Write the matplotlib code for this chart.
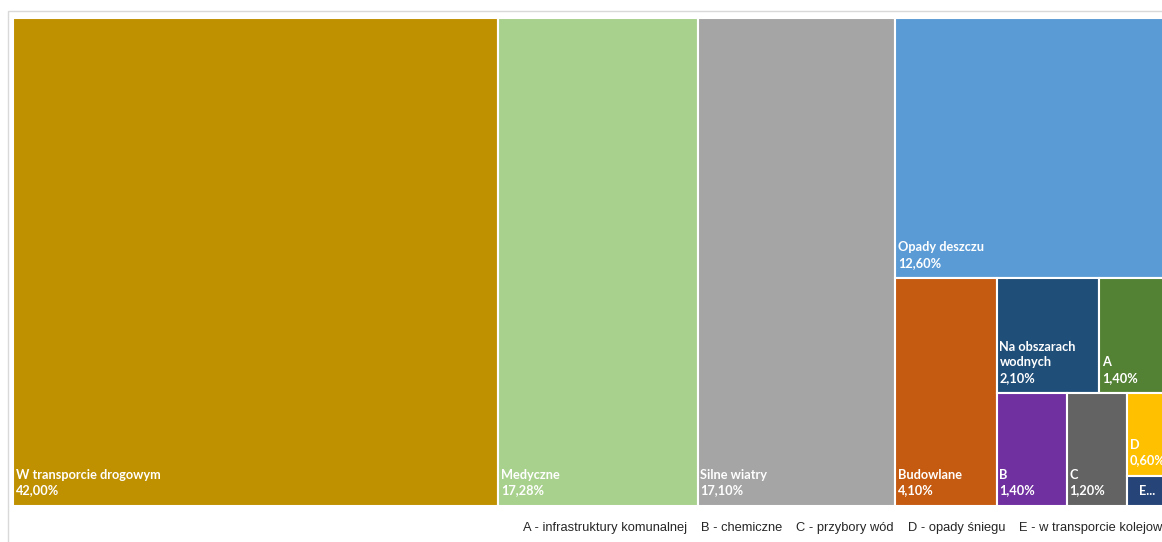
import textwrap
import matplotlib
matplotlib.use("Agg")
import matplotlib.pyplot as plt
from matplotlib.patches import Rectangle

# Treemap data (values in %)
names = ['W transporcie drogowym', 'Medyczne', 'Silne wiatry', 'Opady deszczu',
         'Budowlane', 'Na obszarach wodnych', 'A', 'B', 'C', 'D', 'E']
values = [42.00, 17.28, 17.10, 12.60, 4.10, 2.10, 1.40, 1.40, 1.20, 0.60, 0.22]
colors = ['#BF9000', '#A9D18E', '#A5A5A5', '#5B9BD5', '#C55A11', '#1F4E79',
          '#548235', '#7030A0', '#636363', '#FFC000', '#264478']
legend_items = ['A - infrastruktury komunalnej', 'B - chemiczne', 'C - przybory wód',
                'D - opady śniegu', 'E - w transporcie kolejowym']

# layout canvas (same proportions Excel seems to use)
CW, CH = 300.0, 100.0


def worst(row, side):
    s = sum(row)
    return max(max(side * side * r / (s * s), s * s / (side * side * r)) for r in row)


def squarify(areas, x, y, w, h):
    rects = []
    areas = list(areas)
    while areas:
        side = min(w, h)
        row = [areas[0]]
        i = 1
        while i < len(areas) and worst(row + [areas[i]], side) <= worst(row, side):
            row.append(areas[i])
            i += 1
        s = sum(row)
        if w >= h:
            cw = s / h
            yy = y
            for a in row:
                rects.append((x, yy, cw, a / cw))
                yy += a / cw
            x += cw
            w -= cw
        else:
            rh = s / w
            xx = x
            for a in row:
                rects.append((xx, y, a / rh, rh))
                xx += a / rh
            y += rh
            h -= rh
        areas = areas[i:]
    return rects


total = sum(values)
areas = [v / total * CW * CH for v in values]
rects = squarify(areas, 0, 0, CW, CH)

W_PX, H_PX = 1162, 542
fig = plt.figure(figsize=(W_PX / 100, H_PX / 100), dpi=100)

# chart frame
fig.add_artist(Rectangle((8 / W_PX, -0.2), 1.5, 1 - 11 / H_PX + 0.2,
                         transform=fig.transFigure, fill=False,
                         edgecolor='#D9D9D9', linewidth=1))

ax_left, ax_right = 13, 1168
ax_top, ax_bottom = 18, 506
ax = fig.add_axes([ax_left / W_PX, (H_PX - ax_bottom) / H_PX,
                   (ax_right - ax_left) / W_PX, (ax_bottom - ax_top) / H_PX])
ax.set_xlim(0, CW)
ax.set_ylim(CH, 0)
ax.axis('off')

px_x = (ax_right - ax_left) / CW
px_y = (ax_bottom - ax_top) / CH

for (x, y, w, h), name, v, c in zip(rects, names, values, colors):
    ax.add_patch(Rectangle((x, y), w, h, facecolor=c, edgecolor='white', linewidth=1.5))
    pct = f"{v:.2f}".replace('.', ',') + '%'
    if h * px_y < 40:
        ax.text(x + w / 2, y + h / 2, name[0] + '...', color='white', fontweight='bold',
                fontsize=9, family='Lato', ha='center', va='center')
        continue
    nchar = max(int((w * px_x - 6) / 7.5), 1)
    label = textwrap.fill(name, nchar) + '\n' + pct
    ax.annotate(label, xy=(x, y + h), xytext=(2, 7), textcoords='offset points',
                color='white', fontweight='bold', fontsize=9.2, family='Lato',
                ha='left', va='bottom', linespacing=1.35)

# legend line under the treemap, items one after another
fig.canvas.draw()
renderer = fig.canvas.get_renderer()
lx = 523
for item in legend_items:
    t = fig.text(lx / W_PX, (H_PX - 528) / H_PX, item, fontsize=9.3,
                 family=['Liberation Sans', 'DejaVu Sans'], color='#262626',
                 ha='left', va='center')
    lx += t.get_window_extent(renderer).width + 14

fig.savefig('out.png', dpi=100)
